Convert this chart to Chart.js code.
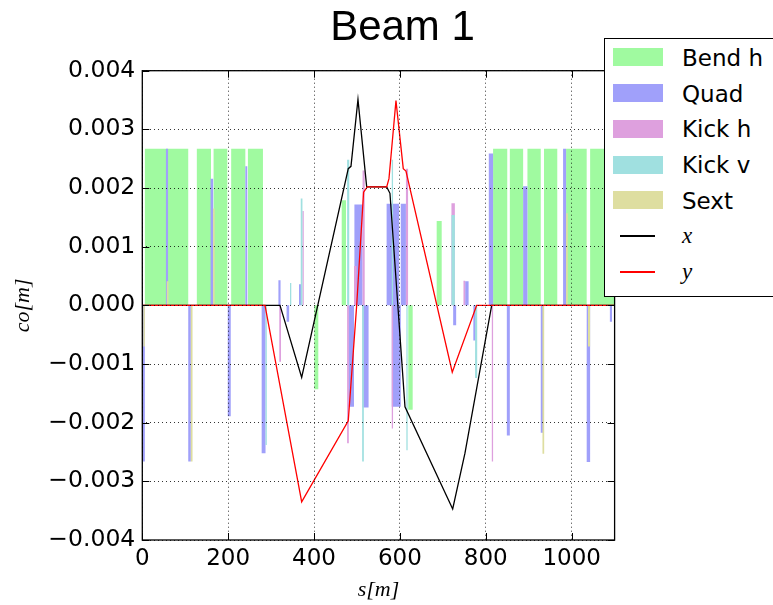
<!DOCTYPE html>
<html><head><meta charset="utf-8">
<script src="https://cdn.jsdelivr.net/npm/chart.js@4"></script>
<style>
html,body{margin:0;padding:0;background:#fff;overflow:hidden;}
#wrap{position:relative;width:773px;height:605px;overflow:hidden;}
#legend{position:absolute;left:604px;top:38px;width:190px;height:259px;border:1.3px solid #000;background:#fff;box-sizing:border-box;}
.sw{position:absolute;left:8px;width:50px;height:18px;}
.ln{position:absolute;left:15px;width:35px;height:1.5px;}
.lab{position:absolute;left:77px;white-space:nowrap;font-family:'DejaVu Sans';font-size:23px;line-height:26px;color:#000;}
.lab.m{font-family:'Liberation Serif';font-style:italic;}
</style></head>
<body>
<div id="wrap"><canvas id="c" width="773" height="605"></canvas><div id="legend"></div></div>
<script>
// ---- tick values / labels ----
const X_TICKS = [0, 200, 400, 600, 800, 1000];
const X_TICK_LABELS = ['0', '200', '400', '600', '800', '1000'];
const Y_TICKS = [-0.004, -0.003, -0.002, -0.001, 0, 0.001, 0.002, 0.003, 0.004];
const Y_TICK_LABELS = ['\u22120.004', '\u22120.003', '\u22120.002', '\u22120.001', '0.000', '0.001', '0.002', '0.003', '0.004'];

// ---- lattice elements: start s [m], length [m], bar height ----
const BEND_S = [6, 127, 166, 207, 246, 400.6, 464.4, 619.5, 685.6, 817, 856, 897, 935.5, 987, 1043];
const BEND_L = [101, 33, 32, 33, 35, 9.3, 10, 10.2, 11.7, 33, 31, 31, 31, 48, 57];
const BEND_V = [0.00267, 0.00267, 0.00267, 0.00267, 0.00267, -0.00143, 0.00179, -0.00178, 0.00144, 0.00267, 0.00267, 0.00267, 0.00267, 0.00267, 0.00267];

const QUAD_S = [0, 55, 107, 159, 199, 240, 278, 317, 336, 365, 480, 494, 513, 569, 581, 602, 724, 752, 771, 807, 849, 887, 928, 980, 1035, 1089];
const QUAD_L = [6, 5, 6, 6, 7, 4.5, 9, 5, 6, 6, 13, 19, 14, 29, 21, 12, 7, 8, 6, 10, 7, 10, 6, 7, 8, 5];
const QUAD_V = [-0.00266, 0.00267, -0.00266, 0.00216, -0.00189, 0.00237, -0.00252, 0.00043, -0.00028, 0.00036, -0.00173, 0.00172, -0.00174, 0.00173, -0.00173, 0.00173, -0.00034, 0.00041, -0.0006, 0.00259, -0.00222, 0.00203, -0.00217, 0.00267, -0.00267, -0.00028];

const KICKH_S = [319, 373, 477, 493, 513, 581, 614, 720, 748, 814];
const KICKH_L = [4, 3, 4, 6, 5, 3, 5, 8, 4, 3];
const KICKH_V = [-0.00096, 0.00161, -0.00235, 0.00067, 0.0023, -0.0021, 0.00233, 0.00174, 0.00042, -0.00266];

const KICKV_S = [287, 344, 369, 477, 512, 581, 615, 720, 775];
const KICKV_L = [3, 3, 4, 5, 4, 3, 3, 8, 5];
const KICKV_V = [-0.00238, 0.00038, 0.00182, 0.00248, -0.00266, 0.00248, -0.00247, 0.00154, -0.00124];

const SEXT_S = [2.5, 57, 113, 165, 932, 987, 1038];
const SEXT_L = [3.5, 4, 4, 3.6, 4, 4, 5];
const SEXT_V = [-0.0007, 0.00041, -0.00266, 0.00165, -0.00253, 0.00157, -0.0007];

// ---- closed orbit x and y ----
const ORBIT_X_S = [0, 320.7, 371.2, 479.7, 486, 502.3, 522.6, 569.2, 576.8, 611.8, 722.9, 751.5, 813.7, 1100];
const ORBIT_X_V = [0, 0, -0.00123, 0.00233, 0.00237, 0.00351, 0.00202, 0.00202, 0.00191, -0.00173, -0.00347, -0.00252, 0, 0];
const ORBIT_Y_S = [0, 285.8, 371.2, 479.7, 499.3, 515.4, 524, 569.2, 574.5, 590.8, 607.8, 614.1, 721.9, 778.8, 1100];
const ORBIT_Y_V = [0, 0, -0.00335, -0.00197, 0, 0.00193, 0.00202, 0.00202, 0.00216, 0.00349, 0.00233, 0.00229, -0.00114, 0, 0];

const S_MIN = 0, S_MAX = 1100;

const COLORS = {
  bend: 'rgb(160,250,160)', quad: 'rgb(160,160,250)', kickh: 'rgb(222,160,222)',
  kickv: 'rgb(160,224,224)', sext: 'rgb(222,222,160)', x: '#000000', y: '#ff0000'
};

function rects(S, L, V) {
  const pts = [{x: S_MIN, y: 0}];
  S.forEach((s, i) => {
    const e = s + L[i];
    pts.push({x: s, y: 0}, {x: s, y: V[i]}, {x: e, y: V[i]}, {x: e, y: 0});
  });
  pts.push({x: S_MAX, y: 0});
  return pts;
}
function curve(S, V) { return S.map((s, i) => ({x: s, y: V[i]})); }

function rectSet(label, S, L, V, color) {
  return {label, data: rects(S, L, V), backgroundColor: color, borderColor: 'rgba(0,0,0,0)',
    borderWidth: 0, pointRadius: 0, fill: 'origin', tension: 0};
}

const datasets = [
  {label: 'y', data: curve(ORBIT_Y_S, ORBIT_Y_V), borderColor: COLORS.y, borderWidth: 1.3, pointRadius: 0, fill: false, tension: 0},
  {label: 'x', data: curve(ORBIT_X_S, ORBIT_X_V), borderColor: COLORS.x, borderWidth: 1.3, pointRadius: 0, fill: false, tension: 0},
  rectSet('Sext', SEXT_S, SEXT_L, SEXT_V, COLORS.sext),
  rectSet('Kick v', KICKV_S, KICKV_L, KICKV_V, COLORS.kickv),
  rectSet('Kick h', KICKH_S, KICKH_L, KICKH_V, COLORS.kickh),
  rectSet('Quad', QUAD_S, QUAD_L, QUAD_V, COLORS.quad),
  rectSet('Bend h', BEND_S, BEND_L, BEND_V, COLORS.bend)
];

const framePlugin = {
  id: 'frame',
  afterDraw(chart) {
    const {ctx, chartArea: a, scales} = chart;
    const x = scales.x, y = scales.y;
    ctx.save();
    ctx.strokeStyle = '#000';
    ctx.lineWidth = 1;
    ctx.beginPath();
    X_TICKS.forEach(v => {
      const p = Math.round(x.getPixelForValue(v)) + 0.5;
      ctx.moveTo(p, a.bottom); ctx.lineTo(p, a.bottom - 7);
      ctx.moveTo(p, a.top); ctx.lineTo(p, a.top + 7);
    });
    Y_TICKS.forEach(v => {
      const p = Math.round(y.getPixelForValue(v)) + 0.5;
      ctx.moveTo(a.left, p); ctx.lineTo(a.left + 7, p);
      ctx.moveTo(a.right, p); ctx.lineTo(a.right - 7, p);
    });
    ctx.stroke();
    ctx.lineWidth = 1.3;
    ctx.strokeRect(a.left, a.top, a.right - a.left, a.bottom - a.top);
    ctx.restore();
  }
};

Chart.defaults.font.family = 'DejaVu Sans';
Chart.defaults.color = '#000';

new Chart(document.getElementById('c'), {
  type: 'line',
  data: {datasets},
  options: {
    responsive: false, animation: false, events: [],
    layout: {padding: {left: 32, right: 0, top: 0, bottom: 0}},
    plugins: {
      legend: {display: false}, tooltip: {enabled: false},
      title: {display: true, text: 'Beam 1', color: '#000', fullSize: true,
        font: {family: 'Liberation Sans', size: 42, weight: 'normal'}, padding: {top: 3.5, bottom: 16.8}}
    },
    scales: {
      x: {
        type: 'linear', position: 'bottom', min: S_MIN, max: S_MAX, bounds: 'data',
        afterBuildTicks: s => { s.ticks = X_TICKS.map(v => ({value: v})); },
        afterFit: s => { s.height = 65; },
        ticks: {callback: (v, i) => X_TICK_LABELS[i], font: {size: 23}, color: '#000', padding: 5, maxRotation: 0, autoSkip: false},
        grid: {color: '#000', lineWidth: 0.8, drawTicks: false, z: 1},
        border: {display: false, dash: [1, 3]},
        title: {display: true, text: 's[m]', color: '#000', font: {family: 'Liberation Serif', style: 'italic', size: 22}, padding: {top: 0, bottom: 2}}
      },
      y: {
        type: 'linear', position: 'left', min: -0.004, max: 0.004, bounds: 'data',
        afterBuildTicks: s => { s.ticks = Y_TICKS.map(v => ({value: v})); },
        afterFit: s => { s.width = 110.3; },
        ticks: {callback: (v, i) => Y_TICK_LABELS[i], font: {size: 23.5}, color: '#000', padding: 7, autoSkip: false},
        grid: {color: '#000', lineWidth: 0.8, drawTicks: false, z: 1},
        border: {display: false, dash: [1, 3]},
        title: {display: true, text: 'co[m]', color: '#000', font: {family: 'Liberation Serif', style: 'italic', size: 22}, padding: {top: -22, bottom: 0}}
      },
      y2: {
        type: 'linear', position: 'right', display: true,
        ticks: {display: false}, grid: {display: false, drawTicks: false}, border: {display: false},
        afterFit: s => { s.width = 158.4; }
      }
    }
  },
  plugins: [framePlugin]
});

// ---- legend (HTML) ----
const LEGEND_ITEMS = [
  {label: 'Bend h', color: COLORS.bend, kind: 'patch'},
  {label: 'Quad', color: COLORS.quad, kind: 'patch'},
  {label: 'Kick h', color: COLORS.kickh, kind: 'patch'},
  {label: 'Kick v', color: COLORS.kickv, kind: 'patch'},
  {label: 'Sext', color: COLORS.sext, kind: 'patch'},
  {label: 'x', color: COLORS.x, kind: 'line'},
  {label: 'y', color: COLORS.y, kind: 'line'}
];
const leg = document.getElementById('legend');
LEGEND_ITEMS.forEach((it, i) => {
  const c = 18.2 + 35.8 * i; // row centre inside legend box
  const mark = document.createElement('div');
  if (it.kind === 'patch') {
    mark.className = 'sw'; mark.style.top = (c - 9) + 'px';
  } else {
    mark.className = 'ln'; mark.style.top = (c - 0.75) + 'px';
  }
  mark.style.backgroundColor = it.color;
  leg.appendChild(mark);
  const lab = document.createElement('div');
  lab.className = 'lab' + (it.kind === 'line' ? ' m' : '');
  lab.textContent = it.label;
  lab.style.top = (c - 12.5 + (it.kind === 'line' ? -1 : 0)) + 'px';
  leg.appendChild(lab);
});
</script>
</body></html>
